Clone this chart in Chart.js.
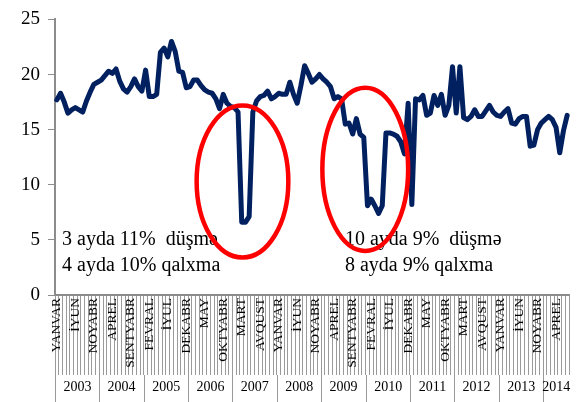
<!DOCTYPE html>
<html>
<head>
<meta charset="utf-8">
<script src="https://cdn.jsdelivr.net/npm/chart.js@4.4.1/dist/chart.umd.min.js"></script>
<style>
  body { margin: 0; background: #fff; }
  #wrap { width: 584px; height: 402px; }
</style>
</head>
<body>
<div id="wrap"><canvas id="chart" width="584" height="402"></canvas></div>
<script>
'use strict';
const monthNames = ['YANVAR', 'FEVRAL', 'MART', 'APREL', 'MAY', 'İYUN', 'İYUL', 'AVQUST', 'SENTYABR', 'OKTYABR', 'NOYABR', 'DEKABR'];
const years = [2003, 2004, 2005, 2006, 2007, 2008, 2009, 2010, 2011, 2012, 2013, 2014];
const monthsLastYear = 7;

// monthly values, Jan 2003 .. Jul 2014
const values = [
  17.7, 18.3, 17.5, 16.5, 16.8, 17.0, 16.8, 16.6, 17.6, 18.4, 19.1, 19.3,
  19.5, 19.9, 20.3, 20.1, 20.5, 19.4, 18.7, 18.4, 18.9, 19.6, 18.9, 18.5,
  20.4, 18.0, 18.0, 18.2, 22.0, 22.4, 21.6, 23.0, 22.1, 20.3, 20.2, 18.8,
  18.9, 19.5, 19.5, 19.0, 18.6, 18.4, 18.3, 17.8, 16.9, 18.2, 17.4, 17.1,
  17.0, 16.6, 6.6, 6.6, 7.1, 16.6, 17.6, 18.0, 18.1, 18.5, 17.8, 18.0,
  18.3, 18.2, 18.2, 19.3, 18.2, 17.4, 19.0, 20.8, 20.1, 19.3, 19.6, 20.0,
  19.6, 19.3, 18.9, 17.8, 18.0, 17.8, 15.5, 15.6, 14.6, 16.0, 14.6, 14.3,
  8.1, 8.7, 8.1, 7.4, 8.1, 14.7, 14.7, 14.6, 14.4, 13.9, 12.8, 17.4,
  8.2, 17.8, 17.7, 18.1, 16.3, 16.5, 18.1, 17.2, 18.2, 16.3, 17.2, 20.7,
  16.5, 20.7, 16.1, 15.9, 16.2, 16.8, 16.2, 16.2, 16.7, 17.2, 16.6, 16.3,
  16.2, 16.6, 16.9, 15.6, 15.5, 16.0, 16.2, 16.2, 13.5, 13.6, 15.0, 15.6,
  15.9, 16.2, 15.9, 15.2, 12.9, 14.9, 16.3
];

// text notes and red ellipses, placed in data units (month index, value)
const notes = [
  { x: 1.4, y: 5.0, lines: ['3 ayda 11%  düşmə', '4 ayda 10% qalxma'] },
  { x: 77.9, y: 5.0, lines: ['10 ayda 9%  düşmə', '8 ayda 9% qalxma'] }
];
const rings = [
  { x: 50.2, y: 10.3, rx: 12.4, ry: 6.9 },
  { x: 83.4, y: 11.4, rx: 11.6, ry: 7.4 }
];

const labels = [];
years.forEach((yr, k) => {
  const n = k === years.length - 1 ? monthsLastYear : 12;
  for (let m = 0; m < n; m++) labels.push(monthNames[m]);
});

const serif = "'Liberation Serif', 'DejaVu Serif', serif";

const decor = {
  id: 'decor',
  afterDraw(chart) {
    const ctx = chart.ctx;
    const xs = chart.scales.x;
    const ys = chart.scales.y;
    const half = (xs.getPixelForValue(1) - xs.getPixelForValue(0)) / 2;
    const rowTop = xs.top + 80;

    // year row
    ctx.save();
    ctx.strokeStyle = '#9a9a9a';
    ctx.lineWidth = 1;
    ctx.fillStyle = '#000';
    ctx.font = '14px ' + serif;
    ctx.textAlign = 'center';
    ctx.textBaseline = 'middle';
    let start = 0;
    years.forEach((yr, k) => {
      const n = k === years.length - 1 ? monthsLastYear : 12;
      const x0 = Math.round(xs.getPixelForValue(start) - half) + 0.5;
      const x1 = xs.getPixelForValue(start + n - 1) + half;
      ctx.beginPath();
      ctx.moveTo(x0, rowTop);
      ctx.lineTo(x0, chart.height);
      ctx.stroke();
      ctx.fillText(String(yr), (x0 + x1) / 2, rowTop + 12);
      start += n;
    });

    // notes
    ctx.font = '20px ' + serif;
    ctx.textAlign = 'left';
    notes.forEach(nt => {
      const px = xs.getPixelForValue(nt.x);
      const py = ys.getPixelForValue(nt.y);
      nt.lines.forEach((t, j) => ctx.fillText(t, px, py + j * 26));
    });

    // red ellipses
    ctx.strokeStyle = '#ff0000';
    ctx.lineWidth = 4.5;
    rings.forEach(r => {
      const cx = xs.getPixelForValue(r.x);
      const cy = ys.getPixelForValue(r.y);
      const rx = xs.getPixelForValue(r.x + r.rx) - cx;
      const ry = cy - ys.getPixelForValue(r.y + r.ry);
      ctx.beginPath();
      ctx.ellipse(cx, cy, rx, ry, 0, 0, Math.PI * 2);
      ctx.stroke();
    });
    ctx.restore();
  }
};

new Chart(document.getElementById('chart'), {
  type: 'line',
  data: {
    labels: labels,
    datasets: [{
      data: values,
      borderColor: '#002060',
      borderWidth: 5,
      pointRadius: 0,
      tension: 0,
      borderJoinStyle: 'round',
      borderCapStyle: 'round'
    }]
  },
  options: {
    responsive: false,
    animation: false,
    layout: { padding: { top: 12, right: 15, left: 0, bottom: 0 } },
    plugins: { legend: { display: false }, tooltip: { enabled: false } },
    scales: {
      x: {
        offset: true,
        afterFit: s => { s.height = 107; },
        grid: { offset: true, drawOnChartArea: false, tickLength: 80, color: '#9a9a9a', lineWidth: 1 },
        border: { color: '#8c8c8c', width: 2 },
        ticks: {
          autoSkip: false,
          minRotation: 90,
          maxRotation: 90,
          padding: -77,
          color: '#000',
          font: { family: serif, size: 13.5 },
          callback: function (value, index) {
            return index % 5 === 0 ? this.getLabelForValue(value) : '';
          }
        }
      },
      y: {
        min: 0,
        max: 25,
        afterFit: s => { s.width = 55; },
        grid: { drawOnChartArea: false, tickLength: 7, color: '#8c8c8c' },
        border: { color: '#8c8c8c', width: 2 },
        ticks: { stepSize: 5, padding: 8, color: '#000', font: { family: serif, size: 19 } }
      }
    }
  },
  plugins: [decor]
});
</script>
</body>
</html>
